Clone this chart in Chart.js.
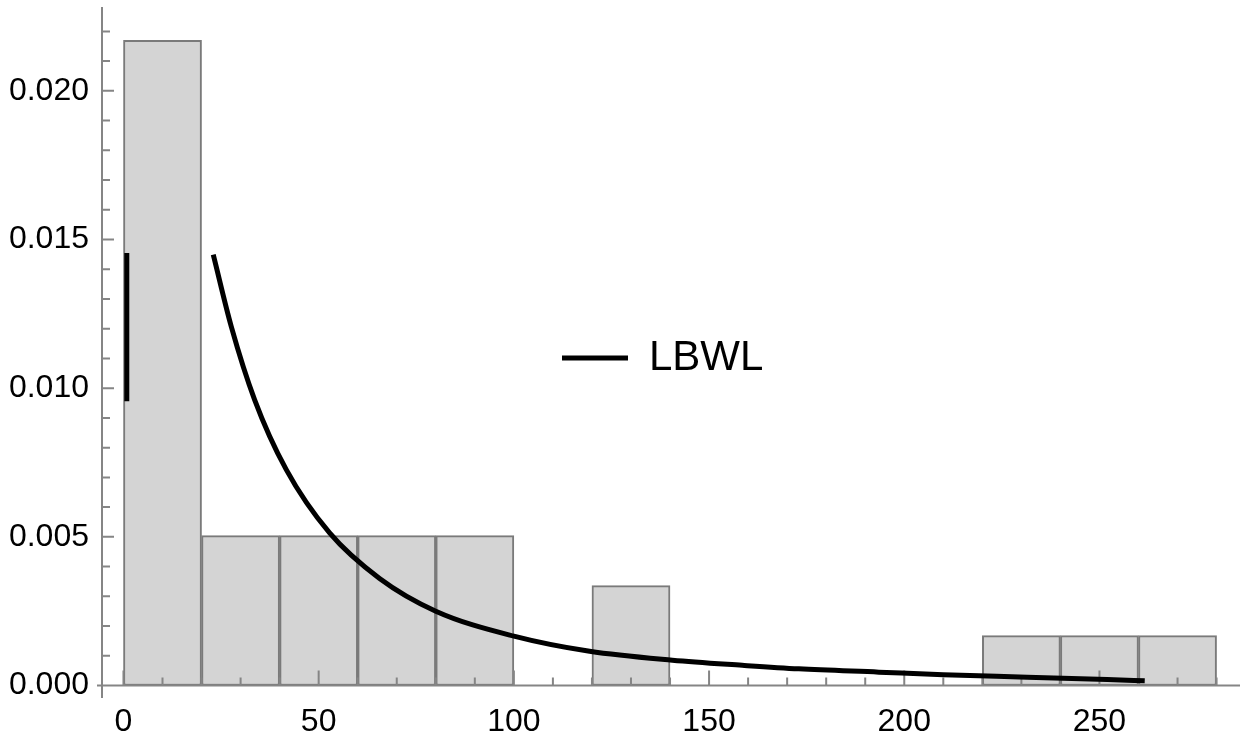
<!DOCTYPE html>
<html><head><meta charset="utf-8">
<script src="https://cdn.jsdelivr.net/npm/chart.js@4"></script>
<style>html,body{margin:0;padding:0;background:#fff}canvas{display:block}</style>
</head><body>
<canvas id="c" width="1250" height="740"></canvas>
<script>
// ---- data ----
const binCenters = [10, 30, 50, 70, 90, 110, 130, 150, 170, 190, 210, 230, 250, 270];
const binHeights = [0.0217, 0.00504, 0.00504, 0.00504, 0.00504, 0, 0.00336, 0, 0, 0, 0, 0.00168, 0.00168, 0.00168];
const curveX = [23, 27.6, 33.6, 41.7, 52.8, 65.6, 80, 100, 119.4, 140.6, 158.5, 173, 193.5, 210, 231.5, 252, 261.6];
const curveY = [0.01449, 0.01208, 0.00961, 0.00726, 0.00513, 0.0036, 0.0025, 0.00166, 0.00115, 0.00085, 0.00068, 0.00056, 0.00045, 0.00036, 0.00028, 0.0002, 0.00016];
const segX = [0.85, 0.85];
const segY = [0.00956, 0.01455];
const seriesLabel = 'LBWL';
const xTicks = [0, 50, 100, 150, 200, 250];
const xTickLabels = ['0', '50', '100', '150', '200', '250'];
const yTicks = [0, 0.005, 0.010, 0.015, 0.020];
const yTickLabels = ['0.000', '0.005', '0.010', '0.015', '0.020'];
const xMinorTicks = [10, 20, 30, 40, 60, 70, 80, 90, 110, 120, 130, 140, 160, 170, 180, 190, 210, 220, 230, 240, 260, 270, 280];
const yMinorTicks = [0.001, 0.002, 0.003, 0.004, 0.006, 0.007, 0.008, 0.009, 0.011, 0.012, 0.013, 0.014, 0.016, 0.017, 0.018, 0.019, 0.021, 0.022];

Chart.defaults.font.family = "'Liberation Sans', Arial, sans-serif";
Chart.defaults.color = '#000';

const AXIS_COLOR = '#858585';

const axesPlugin = {
  id: 'mmaAxes',
  afterDatasetDraw(chart, args) {
    if (args.index !== 2) return;
    const {ctx, chartArea, scales: {x, y}} = chart;
    const y0 = y.getPixelForValue(0);
    const xl = chartArea.left;
    ctx.save();
    ctx.strokeStyle = AXIS_COLOR;
    ctx.lineWidth = 2;
    ctx.beginPath();
    ctx.moveTo(xl - 5, y0); ctx.lineTo(chartArea.right, y0);
    ctx.moveTo(xl, chartArea.top); ctx.lineTo(xl, chartArea.bottom);
    xTicks.forEach(v => { const p = x.getPixelForValue(v); ctx.moveTo(p, y0); ctx.lineTo(p, y0 - 15); });
    xMinorTicks.forEach(v => { const p = x.getPixelForValue(v); ctx.moveTo(p, y0); ctx.lineTo(p, y0 - 8); });
    yTicks.forEach(v => { const p = y.getPixelForValue(v); ctx.moveTo(xl, p); ctx.lineTo(xl + 12, p); });
    yMinorTicks.forEach(v => { const p = y.getPixelForValue(v); ctx.moveTo(xl, p); ctx.lineTo(xl + 8, p); });
    ctx.stroke();
    ctx.restore();
  }
};

const legendPlace = {
  id: 'legendPlace',
  afterLayout(chart) {
    const lg = chart.legend;
    if (!lg) return;
    const w = lg.width, h = lg.height;
    lg.left = 562; lg.top = 337; lg.right = 562 + w; lg.bottom = 337 + h;
  }
};

new Chart(document.getElementById('c'), {
  type: 'bar',
  data: {
    datasets: [
      {
        type: 'line', label: seriesLabel, order: 0,
        data: curveX.map((v, i) => ({x: v, y: curveY[i]})),
        borderColor: '#000', backgroundColor: '#000', borderWidth: 5,
        pointRadius: 0, cubicInterpolationMode: 'monotone', fill: false
      },
      {
        type: 'line', label: 'seg', order: 0,
        data: segX.map((v, i) => ({x: v, y: segY[i]})),
        borderColor: '#000', backgroundColor: '#000', borderWidth: 5,
        pointRadius: 0, fill: false
      },
      {
        type: 'bar', label: 'hist', order: 1,
        data: binCenters.map((v, i) => ({x: v, y: binHeights[i]})),
        backgroundColor: '#d4d4d4', borderColor: '#7a7a7a', borderWidth: 2,
        borderSkipped: false,
        barPercentage: 1, categoryPercentage: 1
      }
    ]
  },
  options: {
    responsive: false, animation: false, devicePixelRatio: 1,
    layout: {padding: {top: 7, right: 10, left: 0, bottom: 0}},
    plugins: {
      tooltip: {enabled: false},
      legend: {
        position: 'chartArea', align: 'start',
        labels: {
          boxWidth: 66, boxHeight: 5, padding: 0,
          font: {size: 42},
          color: '#000',
          generateLabels(chart) {
            const items = Chart.defaults.plugins.legend.labels.generateLabels(chart);
            return items.filter(i => i.text === seriesLabel)
              .map(i => Object.assign({}, i, {fillStyle: '#000', strokeStyle: '#000', lineWidth: 0}));
          }
        }
      }
    },
    scales: {
      x: {
        type: 'linear', offset: false, min: -5.5, max: 286,
        grid: {display: false, drawTicks: false},
        border: {display: false},
        ticks: {padding: 5, font: {size: 32}, color: '#000', maxRotation: 0,
          callback: (v) => { const k = xTicks.indexOf(v); return k >= 0 ? xTickLabels[k] : ''; }},
        afterBuildTicks: s => { s.ticks = xTicks.map(v => ({value: v})); },
        afterFit: s => { s.height = 42; s.paddingLeft = 0; s.paddingRight = 0; }
      },
      y: {
        type: 'linear', min: -0.00042, max: 0.02282,
        grid: {display: false, drawTicks: false},
        border: {display: false},
        ticks: {padding: 13, font: {size: 32}, color: '#000',
          callback: (v) => { const k = yTicks.findIndex(t => Math.abs(t - v) < 1e-9); return k >= 0 ? yTickLabels[k] : ''; }},
        afterBuildTicks: s => { s.ticks = yTicks.map(v => ({value: v})); },
        afterFit: s => { s.width = 102; s.paddingTop = 0; s.paddingBottom = 0; }
      }
    }
  },
  plugins: [axesPlugin, legendPlace]
});
</script>
</body></html>
